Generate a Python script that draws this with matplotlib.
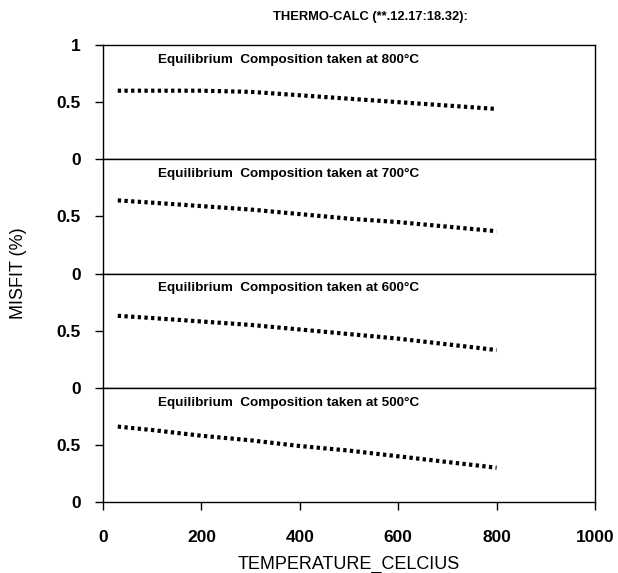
import matplotlib
matplotlib.use("Agg")
import matplotlib.pyplot as plt

plt.rcParams['font.family'] = ['Liberation Sans', 'DejaVu Sans']

temperature = [30, 100, 200, 300, 400, 500, 600, 700, 800]
misfit_800 = [0.60, 0.60, 0.60, 0.59, 0.56, 0.53, 0.50, 0.47, 0.44]
misfit_700 = [0.64, 0.62, 0.59, 0.56, 0.52, 0.48, 0.45, 0.41, 0.37]
misfit_600 = [0.63, 0.61, 0.58, 0.55, 0.51, 0.47, 0.43, 0.38, 0.33]
misfit_500 = [0.66, 0.63, 0.58, 0.54, 0.49, 0.45, 0.40, 0.35, 0.30]
series = [misfit_800, misfit_700, misfit_600, misfit_500]
labels = ["Equilibrium  Composition taken at 800\u00b0C",
          "Equilibrium  Composition taken at 700\u00b0C",
          "Equilibrium  Composition taken at 600\u00b0C",
          "Equilibrium  Composition taken at 500\u00b0C"]
title = "THERMO-CALC (**.12.17:18.32):"

fig = plt.figure(figsize=(6.18, 5.73), dpi=100)
left, right, top, bottom = 103/618, 595/618, 1-45/573, 1-502/573
h = (top - bottom) / 4
axes = []
for i in range(4):
    ax = fig.add_axes([left, top - (i+1)*h, right-left, h])
    axes.append(ax)
    ax.plot(temperature, series[i], color='black', linestyle=(0, (0.8, 0.8)), linewidth=3)
    ax.set_xlim(0, 1000)
    ax.set_ylim(0, 1)
    ax.text(112, 0.87, labels[i], fontsize=9.7, fontweight='bold', va='center', ha='left')
    if i == 0:
        ax.set_yticks([0, 0.5, 1])
        ax.set_yticklabels(["0", "0.5", "1"])
    else:
        ax.set_yticks([0, 0.5])
        ax.set_yticklabels(["0", "0.5"])
    ax.tick_params(axis='y', direction='out', length=6, width=1, labelsize=12.5, pad=10)
    for lab in ax.get_yticklabels():
        lab.set_fontweight('bold')
    for s in ax.spines.values():
        s.set_linewidth(1)
    if i < 3:
        ax.tick_params(axis='x', bottom=False, labelbottom=False)
    else:
        ax.set_xticks([0, 200, 400, 600, 800, 1000])
        ax.tick_params(axis='x', direction='out', length=6, width=1, labelsize=12.5, pad=14)
        for lab in ax.get_xticklabels():
            lab.set_fontweight('bold')
        ax.set_xlabel("TEMPERATURE_CELCIUS", fontsize=13, labelpad=8)

fig.text(0.03, (top + bottom) / 2, "MISFIT (%)", rotation=90, fontsize=13,
         ha='center', va='center')
fig.text(370/618, 1-17/573, title, fontsize=9.3, fontweight='bold', ha='center', va='center')

fig.savefig("out.png", dpi=100)
